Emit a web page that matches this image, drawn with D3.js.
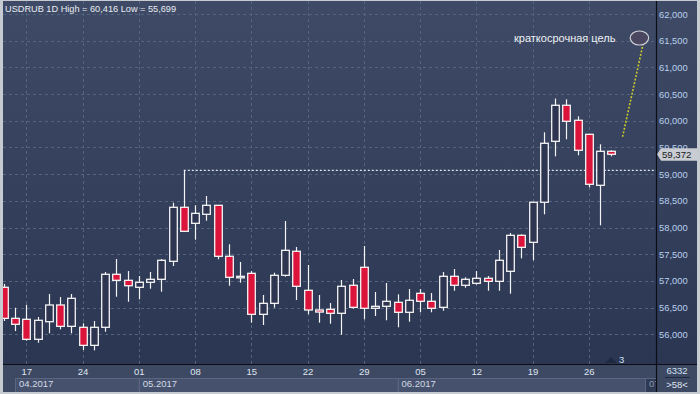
<!DOCTYPE html>
<html><head><meta charset="utf-8">
<script src="https://cdn.jsdelivr.net/npm/d3@7"></script>
<style>html,body{margin:0;padding:0;background:#c6cad1;overflow:hidden}svg{display:block}</style>
</head><body>
<svg id="c" width="700" height="394"></svg>
<script>
// ---- data ----
const dates = [
 "2017-04-13","2017-04-14",
 "2017-04-17","2017-04-18","2017-04-19","2017-04-20","2017-04-21",
 "2017-04-24","2017-04-25","2017-04-26","2017-04-27","2017-04-28",
 "2017-05-01","2017-05-02","2017-05-03","2017-05-04","2017-05-05",
 "2017-05-08","2017-05-09","2017-05-10","2017-05-11","2017-05-12",
 "2017-05-15","2017-05-16","2017-05-17","2017-05-18","2017-05-19",
 "2017-05-22","2017-05-23","2017-05-24","2017-05-25","2017-05-26",
 "2017-05-29","2017-05-30","2017-05-31","2017-06-01","2017-06-02",
 "2017-06-05","2017-06-06","2017-06-07","2017-06-08","2017-06-09",
 "2017-06-12","2017-06-13","2017-06-14","2017-06-15","2017-06-16",
 "2017-06-19","2017-06-20","2017-06-21","2017-06-22","2017-06-23",
 "2017-06-26","2017-06-27","2017-06-28"];
const futureSlots = ["2017-06-29","2017-06-30","2017-07-03"];
const open  = [56.880,56.299,56.281,55.906,56.236,56.549,56.149,56.131,55.793,56.131,57.124,57.011,56.880,56.974,57.030,57.367,58.379,58.079,58.248,58.416,57.461,57.060,57.142,56.374,56.580,57.105,57.555,56.824,56.455,56.468,56.393,56.918,57.255,56.487,56.524,56.599,56.412,56.768,56.618,56.505,57.086,56.918,56.955,57.049,56.992,57.180,57.854,57.723,58.473,59.615,60.290,60.009,59.746,58.791,59.428];
const high  = [56.942,56.498,56.554,56.324,56.755,56.698,56.755,56.206,56.249,57.167,57.410,57.185,57.092,57.167,57.410,58.465,59.072,58.416,58.590,58.420,57.686,57.354,57.185,56.736,57.154,58.122,57.635,57.298,56.736,56.586,57.017,57.036,57.654,56.792,56.961,56.749,56.848,56.848,56.773,57.167,57.223,57.067,57.185,57.092,57.579,57.897,57.873,58.480,59.784,60.416,60.402,60.084,59.750,59.559,59.447];
const low   = [56.249,56.061,55.880,55.842,56.018,56.093,56.018,55.705,55.699,56.048,56.704,56.610,56.655,56.854,56.798,57.279,57.920,57.772,58.128,57.405,56.910,56.966,56.217,56.174,56.498,57.079,56.642,56.374,56.217,56.198,55.992,56.479,56.281,56.342,56.262,56.131,56.236,56.412,56.412,56.442,56.816,56.873,56.929,56.816,56.816,56.760,57.423,57.386,58.248,59.334,59.653,59.353,58.753,58.042,59.334];
const close = [56.299,56.187,55.906,56.262,56.549,56.149,56.674,55.793,56.131,57.124,57.011,56.910,56.974,57.030,57.386,58.379,57.929,58.266,58.416,57.461,57.067,57.086,56.374,56.580,57.105,57.573,56.899,56.455,56.417,56.393,56.899,56.505,56.487,56.524,56.618,56.412,56.637,56.618,56.487,57.086,56.918,57.030,57.049,56.992,57.386,57.854,57.629,58.473,59.578,60.290,59.990,59.447,58.810,59.428,59.372];
const yTicks = [56,56.5,57,57.5,58,58.5,59,59.5,60,60.5,61,61.5,62];
const weekTicks  = ["2017-04-17","2017-04-24","2017-05-01","2017-05-08","2017-05-15","2017-05-22","2017-05-29","2017-06-05","2017-06-12","2017-06-19","2017-06-26"];
const weekLabels = ["17","24","01","08","15","22","29","05","12","19","26"];
const monthStarts = ["2017-04-14","2017-05-01","2017-06-01","2017-07-03"];
const monthLabels = ["04.2017","05.2017","06.2017","07"];
const title = "USDRUB 1D High = 60,416 Low = 55,699";
const levelFrom = "2017-05-05", levelValue = 59.072;
const targetLabel = "краткосрочная цель";
const targetIdx = 56.5, targetValue = 61.55;
const arrowFrom = [55.0, 59.70], arrowTo = [56.84, 61.45];
const lastPrice = 59.372;
const volumeText = "6332", scaleText = ">58<";

// ---- drawing ----
const svg = d3.select("#c");
const W = 700, H = 394;
const PL = 3, PR = 656, PT = 1, PB = 364, AR = 697, BB = 392;
const fmt = v => d3.format(".3f")(v).replace(".", ",");
const allDays = dates.concat(futureSlots);
const xi = d3.scaleLinear().domain([0, allDays.length - 1]).range([3.8, 645.05]);
const xd = d => xi(allDays.indexOf(d));
const y = d3.scaleLinear().domain([56, 62]).range([334.3, 14]);

const defs = svg.append("defs");
const g1 = defs.append("linearGradient").attr("id","bg").attr("x1",0).attr("y1",0).attr("x2",0).attr("y2",1);
g1.append("stop").attr("offset","0").attr("stop-color","#3f4b66");
g1.append("stop").attr("offset","1").attr("stop-color","#2b3653");
defs.append("clipPath").attr("id","clip").append("rect")
  .attr("x",PL).attr("y",PT).attr("width",PR-PL).attr("height",PB-PT);
defs.append("clipPath").attr("id","clipB").append("rect")
  .attr("x",PL).attr("y",PB).attr("width",PR-PL).attr("height",BB-PB);

// backgrounds
svg.append("rect").attr("x",0).attr("y",0).attr("width",W).attr("height",H).attr("fill","#c6cad1");
svg.append("rect").attr("x",PL).attr("y",PT).attr("width",AR-PL).attr("height",PB-PT).attr("fill","url(#bg)");
svg.append("rect").attr("x",PL).attr("y",PB).attr("width",AR-PL).attr("height",BB-PB).attr("fill","#3d4862");

const plot = svg.append("g").attr("clip-path","url(#clip)");
// grid
plot.selectAll(".hg").data(yTicks).join("line")
  .attr("x1",PL).attr("x2",PR).attr("y1",d=>Math.round(y(d))+0.5).attr("y2",d=>Math.round(y(d))+0.5)
  .attr("stroke","#56637d").attr("stroke-width",1).attr("stroke-dasharray","3,3");
plot.selectAll(".vg").data(weekTicks).join("line")
  .attr("x1",d=>Math.round(xd(d))+0.5).attr("x2",d=>Math.round(xd(d))+0.5).attr("y1",PT).attr("y2",PB)
  .attr("stroke","#56637d").attr("stroke-width",1).attr("stroke-dasharray","3,3");

// level line
plot.append("line").attr("x1",xd(levelFrom)).attr("x2",PR).attr("y1",y(levelValue)).attr("y2",y(levelValue))
  .attr("stroke","#dfe3ea").attr("stroke-width",1.2).attr("stroke-dasharray","2,2");

// candles
const idx = d3.range(dates.length);
const bw = 7.6;
plot.selectAll(".wick").data(idx).join("line")
  .attr("x1",i=>Math.round(xi(i))+0.5).attr("x2",i=>Math.round(xi(i))+0.5)
  .attr("y1",i=>y(high[i])).attr("y2",i=>y(low[i]))
  .attr("stroke","#f4f4f4").attr("stroke-width",1.2);
plot.selectAll(".body").data(idx).join("rect")
  .attr("x",i=>Math.round(xi(i))+0.5-bw/2)
  .attr("y",i=>y(Math.max(open[i],close[i])))
  .attr("width",bw)
  .attr("height",i=>Math.max(1.5,Math.abs(y(open[i])-y(close[i]))))
  .attr("fill",i=>close[i]<open[i] ? "#dc143c" : "#2e3551")
  .attr("stroke","#f4f4f4").attr("stroke-width",1.3);

// annotation
plot.append("line")
  .attr("x1",xi(arrowFrom[0])).attr("y1",y(arrowFrom[1]))
  .attr("x2",xi(arrowTo[0])).attr("y2",y(arrowTo[1]))
  .attr("stroke","#c9c92a").attr("stroke-width",1.6).attr("stroke-dasharray","2,1.6");
plot.append("ellipse").attr("cx",xi(targetIdx)).attr("cy",y(targetValue)).attr("rx",9.2).attr("ry",7)
  .attr("fill","#4b4760").attr("stroke","#cfd0d8").attr("stroke-width",1.2);
svg.append("text").attr("x",xi(targetIdx)-24).attr("y",y(targetValue)).attr("dy","0.35em")
  .attr("text-anchor","end").attr("font-family","Liberation Sans, Arial, sans-serif").attr("font-size",11)
  .attr("fill","#eef0f4").text(targetLabel);

// marker at bottom
svg.append("path").attr("d","M605,363 L611,357 L617,363 Z").attr("fill","#1f2940");
svg.append("text").attr("x",619).attr("y",359.5).attr("dy","0.35em").attr("font-family","Liberation Sans, Arial, sans-serif")
  .attr("font-size",9.5).attr("fill","#cfe0f5").text("3");

// title
svg.append("text").attr("x",5).attr("y",8.5).attr("dy","0.35em").attr("font-family","Liberation Sans, Arial, sans-serif")
  .attr("font-size",9.2).attr("fill","#e8ecf2").text(title);

// y axis labels
const yAxis = d3.axisRight(y).tickValues(yTicks).tickFormat(fmt).tickSize(0).tickPadding(0);
const ya = svg.append("g").attr("transform",`translate(659,0)`).call(yAxis);
ya.select(".domain").remove();
ya.selectAll("text").attr("font-family","Liberation Sans, Arial, sans-serif").attr("font-size",9.4).attr("fill","#b9d0ee");

// price tag
const ty = y(lastPrice);
svg.append("path").attr("d",`M657,${ty} L661,${ty-6} L${AR},${ty-6} L${AR},${ty+6.5} L661,${ty+6.5} Z`)
  .attr("fill","#c9ccd3");
svg.append("text").attr("x",662).attr("y",ty).attr("dy","0.38em").attr("font-family","Liberation Sans, Arial, sans-serif")
  .attr("font-size",9.6).attr("fill","#141820").text(fmt(lastPrice));

// bottom axis
const bot = svg.append("g").attr("clip-path","url(#clipB)");
monthStarts.forEach((m,k)=>{
  const x0 = xd(m);
  const x1 = k < monthStarts.length-1 ? xd(monthStarts[k+1]) : PR;
  const last = k === monthStarts.length-1;
  bot.append("rect").attr("x",Math.round(x0)+0.5).attr("y",378.5).attr("width",x1-x0).attr("height",16)
    .attr("fill", last ? "#2f3a55" : "#46526d").attr("stroke","#5a6680").attr("stroke-width",1);
  bot.append("text").attr("x",x0+4).attr("y",384).attr("dy","0.35em")
    .attr("font-family","Liberation Sans, Arial, sans-serif").attr("font-size",9.5)
    .attr("fill", last ? "#8d97aa" : "#d3dae6").text(monthLabels[k]);
});
const xAxis = d3.axisBottom(d3.scalePoint().domain(weekTicks).range([xd(weekTicks[0]), xd(weekTicks[weekTicks.length-1])]))
  .tickFormat((d,i)=>weekLabels[i]).tickSize(0).tickPadding(0);
const xa = bot.append("g").attr("transform","translate(0,368)").call(xAxis);
xa.select(".domain").remove();
xa.selectAll("text").attr("font-family","Liberation Sans, Arial, sans-serif").attr("font-size",9.5).attr("fill","#dfe6f0");

// bottom right cell
svg.append("text").attr("x",677).attr("y",371).attr("dy","0.35em").attr("text-anchor","middle")
  .attr("font-family","Liberation Sans, Arial, sans-serif").attr("font-size",9.5).attr("fill","#cfe0f5").text(volumeText);
svg.append("line").attr("x1",665).attr("x2",690).attr("y1",377.5).attr("y2",377.5).attr("stroke","#202a3e");
svg.append("text").attr("x",677).attr("y",385).attr("dy","0.35em").attr("text-anchor","middle")
  .attr("font-family","Liberation Sans, Arial, sans-serif").attr("font-size",9.5).attr("fill","#dfe6f0").text(scaleText);

// separators
svg.append("line").attr("x1",PL).attr("x2",AR).attr("y1",PB+0.5).attr("y2",PB+0.5).attr("stroke","#0b0e14").attr("stroke-width",1.2);
svg.append("line").attr("x1",PR+0.5).attr("x2",PR+0.5).attr("y1",PT).attr("y2",BB).attr("stroke","#0b0e14").attr("stroke-width",1.2);
</script>
</body></html>
